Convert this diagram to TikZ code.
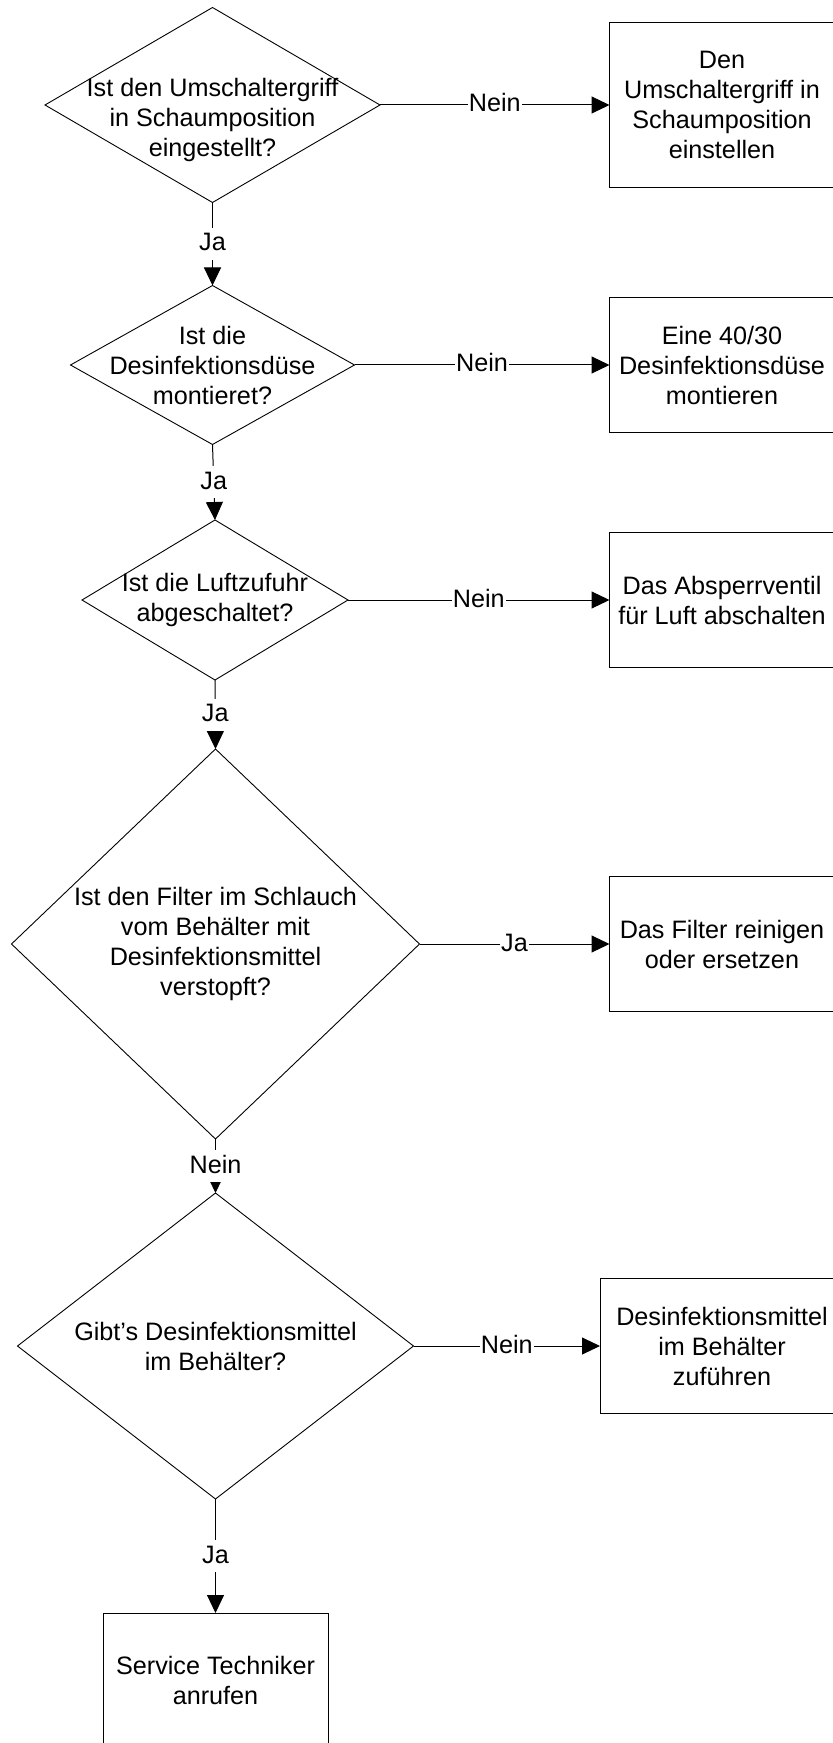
\documentclass[tikz,border=0pt]{standalone}
\usepackage{fontspec}
\setmainfont{Liberation Sans}
\usetikzlibrary{shapes.geometric,arrows.meta}
\begin{document}
\begin{tikzpicture}[x=0.5pt,y=-0.5pt,
  font=\fontsize{12.6pt}{15pt}\selectfont,
  dec/.style={diamond,draw,line width=0.45pt,inner sep=0pt,outer sep=0pt},
  box/.style={rectangle,draw,line width=0.5pt,inner sep=0pt,outer sep=0pt,minimum width=112.5pt,minimum height=67.5pt,align=center},
  txt/.style={align=center,inner sep=0pt},
  conn/.style={line width=0.5pt,-{Triangle[length=9pt,width=8.5pt]}},
  lab/.style={fill=white,inner xsep=0.5pt,inner ysep=2pt,text height=9.5pt,text depth=2.5pt}
]
\useasboundingbox (0,0) rectangle (833,1743);
\clip (0,0) rectangle (833,1743);

% decisions
\node[dec,minimum width=167.5pt,minimum height=97.5pt] (D1) at (212.5,105) {};
\node[txt] (D1t) at (212.5,120) {Ist den Umschaltergriff\\in Schaumposition\\eingestellt?};
\node[dec,minimum width=142pt,minimum height=79.5pt] (D2) at (212.5,365) {};
\node[txt] (D2t) at (D2) {Ist die\\Desinfektionsdüse\\montieret?};
\node[dec,minimum width=133pt,minimum height=80pt] (D3) at (215,600) {};
\node[txt] (D3t) at (D3) {Ist die Luftzufuhr\\abgeschaltet?};
\node[dec,minimum width=204pt,minimum height=195pt] (D4) at (215.5,944) {};
\node[txt] (D4t) at (D4) {Ist den Filter im Schlauch\\vom Behälter mit\\Desinfektionsmittel\\verstopft?};
\node[dec,minimum width=198pt,minimum height=153pt] (D5) at (215.5,1346) {};
\node[txt] (D5t) at (D5) {Gibt’s Desinfektionsmittel\\im Behälter?};

% actions
\node[box,minimum height=82.5pt] (B1) at (722,105) {Den\\Umschaltergriff in\\Schaumposition\\einstellen};
\node[box] (B2) at (722,365) {Eine 40/30\\Desinfektionsdüse\\montieren};
\node[box] (B3) at (722,600) {Das Absperrventil\\für Luft abschalten};
\node[box] (B4) at (722,944) {Das Filter reinigen\\oder ersetzen};
\node[box,minimum width=122pt] (B5) at (722,1346) {Desinfektionsmittel\\im Behälter\\zuführen};
\node[box] (B6) at (215.5,1680.5) {Service Techniker\\anrufen};

% connectors
\draw[conn] (D1.east) -- node[lab]{Nein} (B1.west);
\draw[conn] (D2.east) -- node[lab]{Nein} (B2.west);
\draw[conn] (D3.east) -- node[lab]{Nein} (B3.west);
\draw[conn] (D4.east) -- node[lab]{Ja} (B4.west);
\draw[conn] (D5.east) -- node[lab]{Nein} (B5.west);

\draw[conn] (D1.south) -- node[lab]{Ja} (D2.north);
\draw[conn] (D2.south) -- node[lab]{Ja} (D3.north);
\draw[conn] (D3.south) -- node[lab]{Ja} (D4.north);
\draw[conn] (D4.south) -- node[lab]{Nein} (D5.north);
\draw[conn] (D5.south) -- node[lab]{Ja} (B6.north);
\end{tikzpicture}
\end{document}
